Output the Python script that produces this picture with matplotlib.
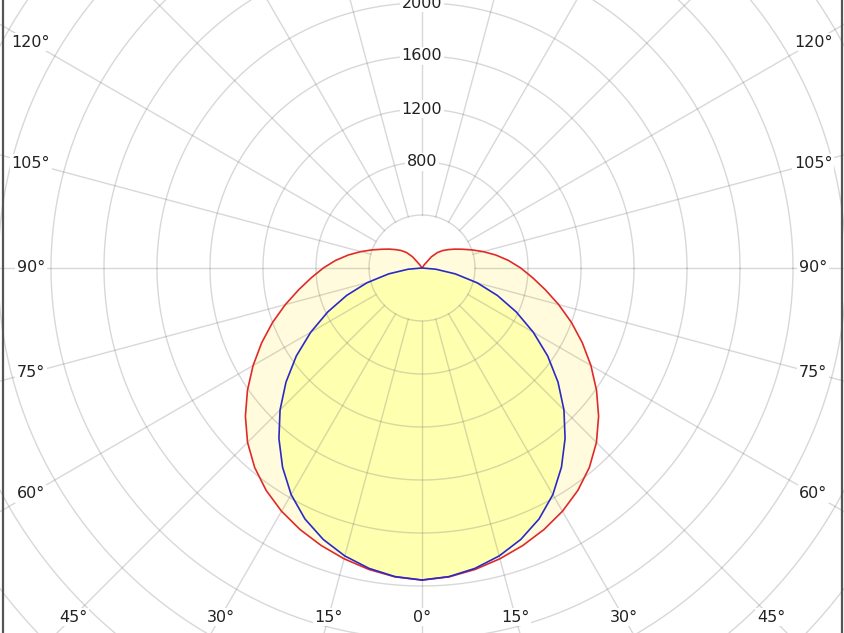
import numpy as np
import matplotlib.pyplot as plt

# angles from nadir (deg), intensities (cd)
angles = list(range(0, 185, 5))
c90 = [2355, 2340, 2310, 2272, 2228, 2178, 2120, 2050, 1965, 1862,
       1740, 1608, 1472, 1335, 1200, 1068, 945, 838, 745, 655,
       565, 478, 400, 335, 285, 242, 205, 165, 110, 30,
       0, 0, 0, 0, 0, 0, 0]
c0 = [2355, 2338, 2302, 2250, 2180, 2090, 1975, 1835, 1680, 1515,
      1340, 1158, 970, 785, 605, 430, 255, 105, 0, 0,
      0, 0, 0, 0, 0, 0, 0, 0, 0, 0,
      0, 0, 0, 0, 0, 0, 0]

ring_values = list(range(400, 5200, 400))
ring_labels = [800, 1200, 1600, 2000]
angle_labels = list(range(0, 135, 15))

W, H = 844, 633
cx, cy = 422, 268          # centre of diagram in pixels (from top-left)
u = 400 / 53.0             # candela per pixel

fig = plt.figure(figsize=(W / 100, H / 100), dpi=100)
ax = fig.add_axes([0, 0, 1, 1])
ax.set_xlim(-cx * u, (W - cx) * u)
ax.set_ylim(-(H - cy) * u, cy * u)
ax.axis("off")


def outline(vals):
    th = np.radians(angles)
    r = np.array(vals, dtype=float)
    x = np.concatenate([r * np.sin(th), -(r * np.sin(th))[::-1]])
    y = np.concatenate([-r * np.cos(th), (-r * np.cos(th))[::-1]])
    return x, y


xr, yr = outline(c90)
xb, yb = outline(c0)
ax.fill(xr, yr, color="#fffbdc", zorder=1, lw=0)
ax.fill(xb, yb, color="#ffffb0", zorder=1, lw=0)

# grid
grid_kw = dict(color="0.45", alpha=0.28, lw=1.0, zorder=2)
t = np.linspace(0, 2 * np.pi, 720)
for rv in ring_values:
    ax.plot(rv * np.cos(t), rv * np.sin(t), **grid_kw)
for a in range(0, 360, 15):
    ar = np.radians(a)
    ax.plot([400 * np.sin(ar), 6000 * np.sin(ar)],
            [-400 * np.cos(ar), -6000 * np.cos(ar)], **grid_kw)

ax.plot(xr, yr, color="#e02a2a", lw=1.2, zorder=3, solid_joinstyle="round")
ax.plot(xb, yb, color="#2a2ac8", lw=1.2, zorder=3, solid_joinstyle="round")

txt_kw = dict(ha="center", va="center", fontsize=11.5, color="#222222", zorder=4,
              bbox=dict(boxstyle="square,pad=0.1", fc="white", ec="none"))

for rv in ring_labels:
    ax.text(0, rv, str(rv), **txt_kw)

# angle labels sit where each spoke meets an inner frame
side, bottom = 391 * u, 349 * u
for a in angle_labels:
    ar = np.radians(a)
    s, c = np.sin(ar), np.cos(ar)
    cands = []
    if s > 1e-9:
        cands.append(side / s)
    if c > 1e-9:
        cands.append(bottom / c)
    d = min(cands)
    for sign in ([1] if a == 0 else [-1, 1]):
        ax.text(sign * d * s, -d * c, f"{a}°", **txt_kw)

# frame edges left and right
fig.add_artist(plt.Line2D([0.003, 0.003], [0, 1], color="#555555", lw=1.6))
fig.add_artist(plt.Line2D([0.998, 0.998], [0, 1], color="#555555", lw=1.6))

fig.savefig("out.png", dpi=100)
